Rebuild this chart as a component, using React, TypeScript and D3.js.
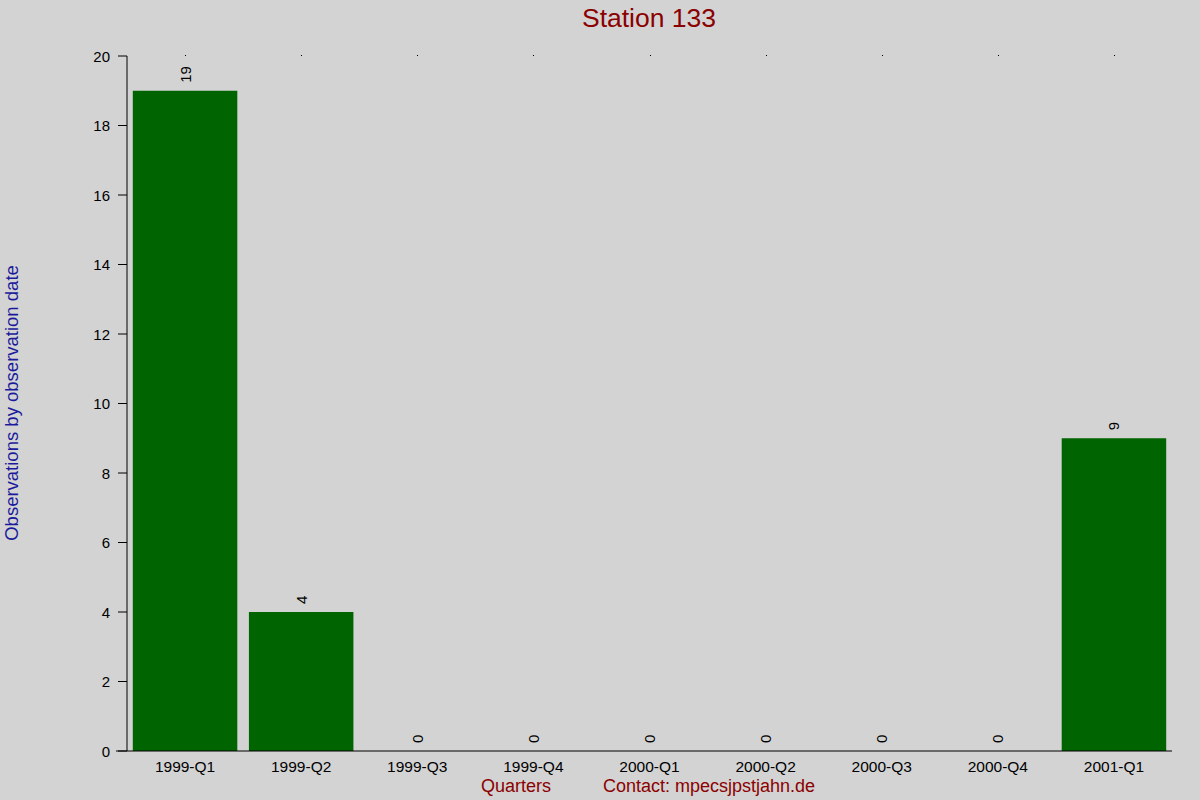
import React from 'react';
import * as d3 from 'd3';

const quarters = ['1999-Q1', '1999-Q2', '1999-Q3', '1999-Q4', '2000-Q1', '2000-Q2', '2000-Q3', '2000-Q4', '2001-Q1'];
const counts = [19, 4, 0, 0, 0, 0, 0, 0, 9];
const yTicks = [0, 2, 4, 6, 8, 10, 12, 14, 16, 18, 20];

const W = 1200;
const H = 800;
const margin = { top: 56, right: 28, bottom: 49, left: 127 };
const font = 'Arial, "Liberation Sans", sans-serif';

const App: React.FC = () => {
  const x = d3.scaleBand<string>()
    .domain(quarters)
    .range([margin.left, W - margin.right])
    .paddingInner(0.1)
    .paddingOuter(0.05);
  const y = d3.scaleLinear().domain([0, 20]).range([H - margin.bottom, margin.top]);
  const centre = (q: string) => (x(q) || 0) + x.bandwidth() / 2;
  const y0 = y(0);

  return (
    <svg width={W} height={H} style={{ position: 'absolute', left: 0, top: 0, display: 'block' }}>
      <rect width={W} height={H} fill="#d3d3d3" />

      <text x={649} y={27} textAnchor="middle" fontFamily={font} fontSize={26.5} fill="#8b0000">Station 133</text>

      {/* bars */}
      {quarters.map((q, i) => (
        <rect key={q} x={x(q)} y={y(counts[i])} width={x.bandwidth()} height={y0 - y(counts[i])} fill="#006400" />
      ))}

      {/* value labels */}
      {quarters.map((q, i) => (
        <text key={q} transform={`translate(${centre(q)},${y(counts[i]) - 8}) rotate(-90)`}
          dominantBaseline="central" fontFamily={font} fontSize={15} fill="#000">{counts[i]}</text>
      ))}

      {/* top tick dots */}
      {quarters.map(q => (
        <rect key={q} x={Math.round(centre(q))} y={margin.top - 1} width={1} height={1} fill="#000" />
      ))}

      {/* y axis */}
      <line x1={margin.left} x2={margin.left} y1={margin.top} y2={y0} stroke="#000" />
      {yTicks.map(t => (
        <g key={t}>
          <line x1={margin.left - 9} x2={margin.left} y1={y(t)} y2={y(t)} stroke="#000" />
          <text x={110} y={y(t)} textAnchor="end" dominantBaseline="central" fontFamily={font} fontSize={15} fill="#000">{t}</text>
        </g>
      ))}

      {/* x axis */}
      <line x1={margin.left - 11} x2={W - margin.right} y1={y0} y2={y0} stroke="#000" />
      {quarters.map(q => (
        <text key={q} x={centre(q)} y={766} textAnchor="middle" dominantBaseline="central" fontFamily={font} fontSize={15.5} fill="#000">{q}</text>
      ))}

      <text transform={`translate(11,403) rotate(-90)`} textAnchor="middle" dominantBaseline="central"
        fontFamily={font} fontSize={18.5} fill="#1a1a9c">Observations by observation date</text>
      <text x={481} y={786} dominantBaseline="central" fontFamily={font} fontSize={18} fill="#8b0000">Quarters</text>
      <text x={603} y={786} dominantBaseline="central" fontFamily={font} fontSize={18} fill="#8b0000">Contact: mpecsjpstjahn.de</text>
    </svg>
  );
};

export default App;
